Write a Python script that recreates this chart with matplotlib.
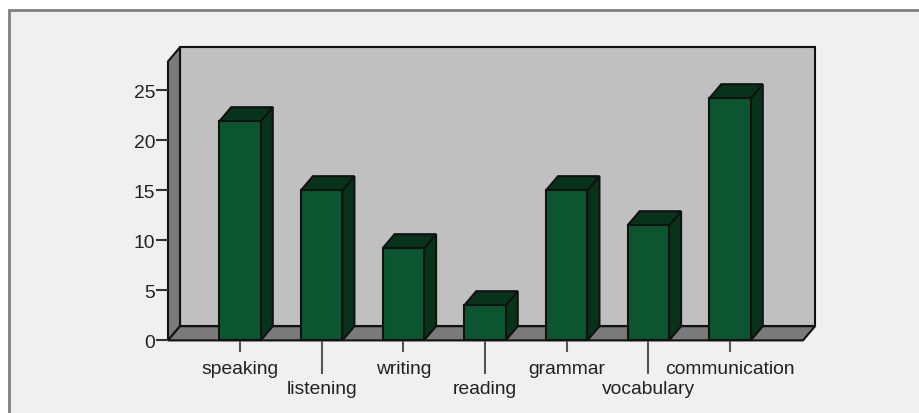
from matplotlib import pyplot as plt
from matplotlib.patches import Polygon, Rectangle

categories = ["speaking", "listening", "writing", "reading", "grammar", "vocabulary", "communication"]
values = [21.9, 15, 9.2, 3.5, 15, 11.5, 24.2]
y_ticks = [0, 5, 10, 15, 20, 25]

W, H = 920, 414
EDGE = "#111111"
FRONT = "#0b5530"
SHADE = "#07331a"
WALL = "#c0c0c0"
FLOOR = "#7a7a7a"
BG = "#f0f0f0"

plt.rcParams['font.family'] = ['Liberation Sans', 'DejaVu Sans']

fig = plt.figure(figsize=(W / 100, H / 100), dpi=100, facecolor="white")

# panel behind the chart, open on the right and at the bottom
fig.add_artist(Rectangle((8.5 / W, -0.1), 1.0, 1 - 10.5 / H + 0.1, transform=fig.transFigure,
                         facecolor=BG, edgecolor="#808080", linewidth=2.0, zorder=-1))

# axes box is the front of the plot volume
left, right, bottom, top = 168, 803, 341.4, 62.4
ax = fig.add_axes([left / W, 1 - bottom / H, (right - left) / W, (bottom - top) / H])
ax.set_xlim((left - 240) / 81.67, (right - 240) / 81.67)
ax.set_ylim(0, (bottom - top) / 10)
ax.patch.set_visible(False)
for s in ax.spines.values():
    s.set_visible(False)

# depth of the fake 3d, in data units
dx = 12 / 81.67
dy = 1.42
x0, x1 = ax.get_xlim()
y0, y1 = ax.get_ylim()


def face(points, color, z):
    ax.add_patch(Polygon(points, closed=True, facecolor=color, edgecolor=EDGE,
                         linewidth=1.5, joinstyle="miter", clip_on=False, zorder=z))


face([(x0 + dx, y0 + dy), (x1 + dx, y0 + dy), (x1 + dx, y1 + dy), (x0 + dx, y1 + dy)], WALL, 1)
face([(x0, y0), (x0 + dx, y0 + dy), (x0 + dx, y1 + dy), (x0, y1)], FLOOR, 1)
face([(x0, y0), (x1, y0), (x1 + dx, y0 + dy), (x0 + dx, y0 + dy)], FLOOR, 1)

width = 41.5 / 81.67
for i, v in enumerate(values):
    l = i - width / 2
    r = i + width / 2
    ax.bar(i, v, width=width, color=FRONT, edgecolor=EDGE, linewidth=1.5, zorder=3, clip_on=False)
    face([(r, 0), (r + dx, dy), (r + dx, v + dy), (r, v)], SHADE, 2)
    face([(l, v), (r, v), (r + dx, v + dy), (l + dx, v + dy)], SHADE, 2)

ax.set_yticks(y_ticks)
ax.tick_params(axis="y", length=8.6, width=1.5, color="#333333", pad=0.5, labelsize=13.9, labelcolor="#222222")

# every other category label sits on a longer tick
ax.set_xticks(range(len(categories)))
ax.set_xticklabels(categories)
ax.tick_params(axis="x", width=1.5, color="#555555", labelsize=13.9, labelcolor="#222222")
for i, tick in enumerate(ax.xaxis.get_major_ticks()):
    # set_pad resets the marker size, so the length comes after it
    tick.set_pad(10.5 if i % 2 == 0 else 25)
    tick.tick1line.set_markersize(8.6 if i % 2 == 0 else 24.5)

fig.savefig("out.png", dpi=100, facecolor=fig.get_facecolor())
